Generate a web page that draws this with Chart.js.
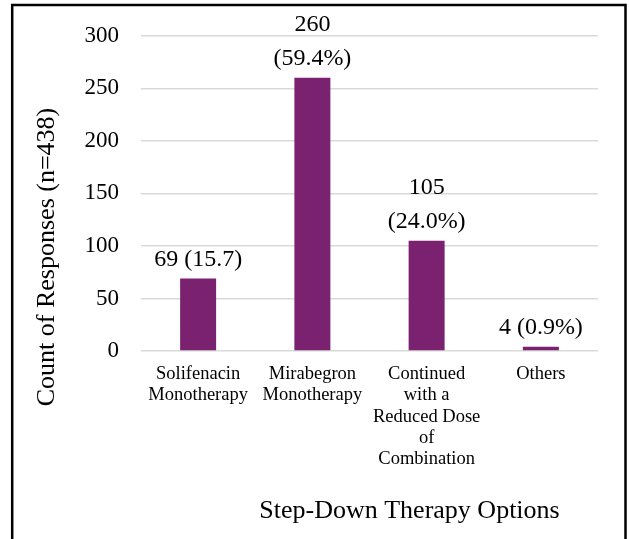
<!DOCTYPE html>
<html>
<head>
<meta charset="utf-8">
<script src="https://cdn.jsdelivr.net/npm/chart.js@4/dist/chart.umd.min.js"></script>
<style>
  html, body { margin: 0; padding: 0; background: #fff; }
  #wrap { position: absolute; left: 0; top: 0; width: 629px; height: 539px; }
</style>
</head>
<body>
<div id="wrap"><canvas id="c" width="629" height="539"></canvas></div>
<script>
// Step-down therapy choices, counts of responses
const categories = [
  ['Solifenacin', 'Monotherapy'],
  ['Mirabegron', 'Monotherapy'],
  ['Continued', 'with a', 'Reduced Dose', 'of', 'Combination'],
  ['Others']
];
const counts = [69, 260, 105, 4];
const valueLabels = [
  ['69 (15.7)'],
  ['260', '(59.4%)'],
  ['105', '(24.0%)'],
  ['4 (0.9%)']
];
const yTicks = [0, 50, 100, 150, 200, 250, 300];
const xTitle = 'Step-Down Therapy Options';
const yTitle = 'Count of Responses (n=438)';

const SERIF = "'Liberation Serif', 'Times New Roman', serif";
const BAR = '#7a2170';
const GRID = '#d9d9d9';

// Outer frame, value labels above the bars, and the two axis titles
const decorations = {
  id: 'decorations',
  beforeDraw(chart) {
    const ctx = chart.ctx;
    ctx.save();
    ctx.fillStyle = '#fff';
    ctx.fillRect(0, 0, chart.width, chart.height);
    ctx.strokeStyle = '#000';
    ctx.lineWidth = 2.5;
    ctx.beginPath();
    ctx.moveTo(12.2, chart.height + 10);
    ctx.lineTo(12.2, 5);
    ctx.lineTo(625.5, 5);
    ctx.lineTo(625.5, chart.height + 10);
    ctx.stroke();
    ctx.restore();
  },
  afterDatasetsDraw(chart) {
    const ctx = chart.ctx;
    const bars = chart.getDatasetMeta(0).data;
    ctx.save();
    ctx.fillStyle = '#000';
    ctx.font = '24px ' + SERIF;
    ctx.textAlign = 'center';
    ctx.textBaseline = 'alphabetic';
    bars.forEach((bar, i) => {
      const lines = valueLabels[i];
      const lh = 34;
      lines.forEach((line, j) => {
        const y = bar.y - 13 - (lines.length - 1 - j) * lh;
        ctx.fillText(line, bar.x, y);
      });
    });
    // axis titles
    const area = chart.chartArea;
    ctx.font = '26px ' + SERIF;
    ctx.textBaseline = 'middle';
    ctx.fillText(xTitle, (area.left + area.right) / 2 + 40, 511);
    ctx.translate(47, 257);
    ctx.rotate(-Math.PI / 2);
    ctx.fillText(yTitle, 0, 0);
    ctx.restore();
  }
};

new Chart(document.getElementById('c'), {
  type: 'bar',
  data: {
    labels: categories,
    datasets: [{
      data: counts,
      backgroundColor: BAR,
      borderWidth: 0,
      categoryPercentage: 0.63,
      barPercentage: 0.5
    }]
  },
  options: {
    responsive: false,
    animation: false,
    devicePixelRatio: 1,
    layout: { padding: { left: 0, right: 31, top: 33, bottom: 0 } },
    plugins: {
      legend: { display: false },
      tooltip: { enabled: false },
      title: { display: false }
    },
    scales: {
      x: {
        grid: { display: false, drawTicks: false },
        border: { display: false },
        ticks: {
          color: '#000',
          font: { family: SERIF, size: 18.5, lineHeight: 1.16 },
          padding: 12,
          maxRotation: 0,
          autoSkip: false
        },
        afterFit(scale) { scale.height = 188; }
      },
      y: {
        min: 0,
        max: 300,
        afterBuildTicks(scale) { scale.ticks = yTicks.map(v => ({ value: v })); },
        grid: { color: GRID, lineWidth: 1.5, drawTicks: false },
        border: { display: false },
        ticks: {
          color: '#000',
          font: { family: SERIF, size: 23 },
          padding: 22
        },
        afterFit(scale) { scale.width = 141; }
      }
    }
  },
  plugins: [decorations]
});
</script>
</body>
</html>
